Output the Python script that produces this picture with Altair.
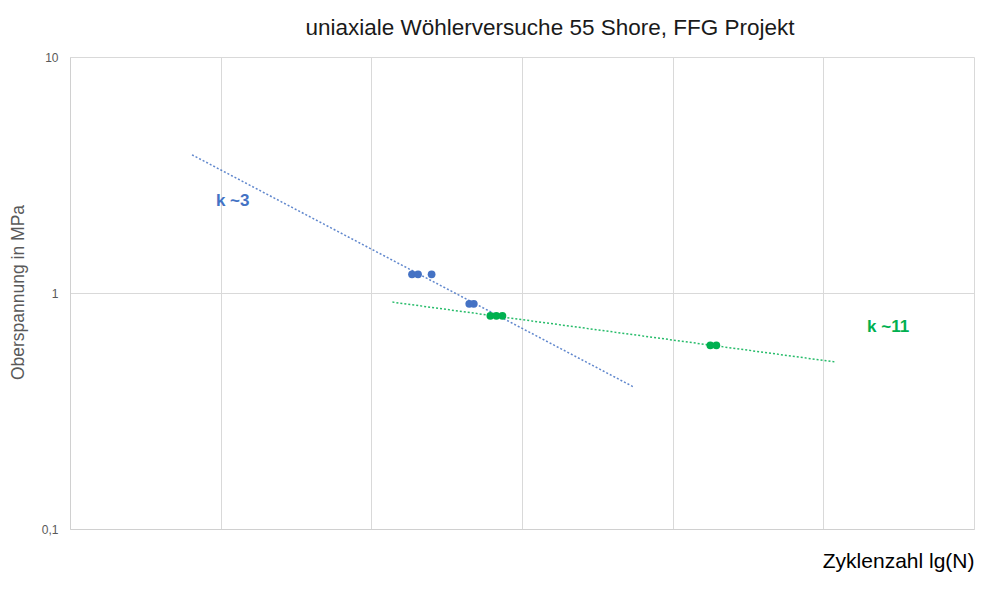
import altair as alt
import pandas as pd

# data
blue_x = [2.27, 2.31, 2.40, 2.65, 2.68]
blue_y = [1.2, 1.2, 1.2, 0.9, 0.9]
green_x = [2.79, 2.83, 2.87, 4.25, 4.29]
green_y = [0.8, 0.8, 0.8, 0.6, 0.6]
blue_trend_x = [0.81, 3.74]
blue_trend_y = [3.85, 0.40]
green_trend_x = [2.14, 5.08]
green_trend_y = [0.915, 0.51]
labels = ["k ~3", "k ~11"]
label_x = [1.08, 5.43]
label_y = [2.45, 0.715]

BLUE = "#4472C4"
GREEN = "#00B050"

pts = pd.DataFrame({
    "x": blue_x + green_x,
    "y": blue_y + green_y,
    "s": ["blue"] * len(blue_x) + ["green"] * len(green_x),
})
trend = pd.DataFrame({
    "x": blue_trend_x + green_trend_x,
    "y": blue_trend_y + green_trend_y,
    "s": ["blue"] * 2 + ["green"] * 2,
})
lab = pd.DataFrame({"x": label_x, "y": label_y, "t": labels, "s": ["blue", "green"]})

xscale = alt.Scale(domain=[0, 6], nice=False, zero=False)
yscale = alt.Scale(type="log", domain=[0.1, 10], nice=False)
color = alt.Color("s:N", scale=alt.Scale(domain=["blue", "green"], range=[BLUE, GREEN]), legend=None)

xaxis = alt.Axis(
    title="Zyklenzahl lg(N)", values=[0, 1, 2, 3, 4, 5, 6], labels=False, ticks=False,
    domainColor="#d0d0d0", gridColor="#d9d9d9", titleFontSize=21, titleFontWeight="normal",
    titleColor="#000000", titleFont="Liberation Sans", titleAnchor="end", titleAlign="right",
    titleX=904, titleY=32, titleBaseline="middle",
)
yaxis = alt.Axis(
    title="Oberspannung in MPa", values=[0.1, 1, 10], ticks=False,
    labelExpr="replace(toString(datum.value), '.', ',')",
    labelFontSize=12, labelColor="#595959", labelFont="Liberation Sans", labelPadding=12,
    domainColor="#d0d0d0", gridColor="#d9d9d9", titleFontSize=17.5, titleFontWeight="normal",
    titleColor="#595959", titleFont="Liberation Sans", titleX=-52, titleY=235,
    titleAngle=-90, titleAlign="center", titleBaseline="middle",
)

base_x = alt.X("x:Q", scale=xscale, axis=xaxis)
base_y = alt.Y("y:Q", scale=yscale, axis=yaxis)

lines = alt.Chart(trend).mark_line(strokeDash=[2, 2], strokeWidth=1.5, opacity=0.85).encode(
    x=base_x, y=base_y, color=color, detail="s:N"
)
points = alt.Chart(pts).mark_circle(size=60, opacity=1).encode(
    x=alt.X("x:Q", scale=xscale), y=alt.Y("y:Q", scale=yscale), color=color
)
texts = alt.Chart(lab).mark_text(fontSize=17, fontWeight="bold", font="Liberation Sans").encode(
    x=alt.X("x:Q", scale=xscale), y=alt.Y("y:Q", scale=yscale), text="t:N", color=color
)

chart = alt.layer(lines, points, texts).properties(
    width=904, height=472,
    title=alt.TitleParams(
        "uniaxiale Wöhlerversuche 55 Shore, FFG Projekt", fontSize=22.5, fontWeight="normal",
        font="Liberation Sans", color="#1a1a1a", anchor="middle", dx=28, offset=12,
    ),
    autosize=alt.AutoSizeParams(type="none"),
    padding={"left": 62, "top": 49, "right": 18, "bottom": 50},
).configure_view(stroke=None)

chart.save("out.html", embed_options={"renderer": "svg", "actions": False})
